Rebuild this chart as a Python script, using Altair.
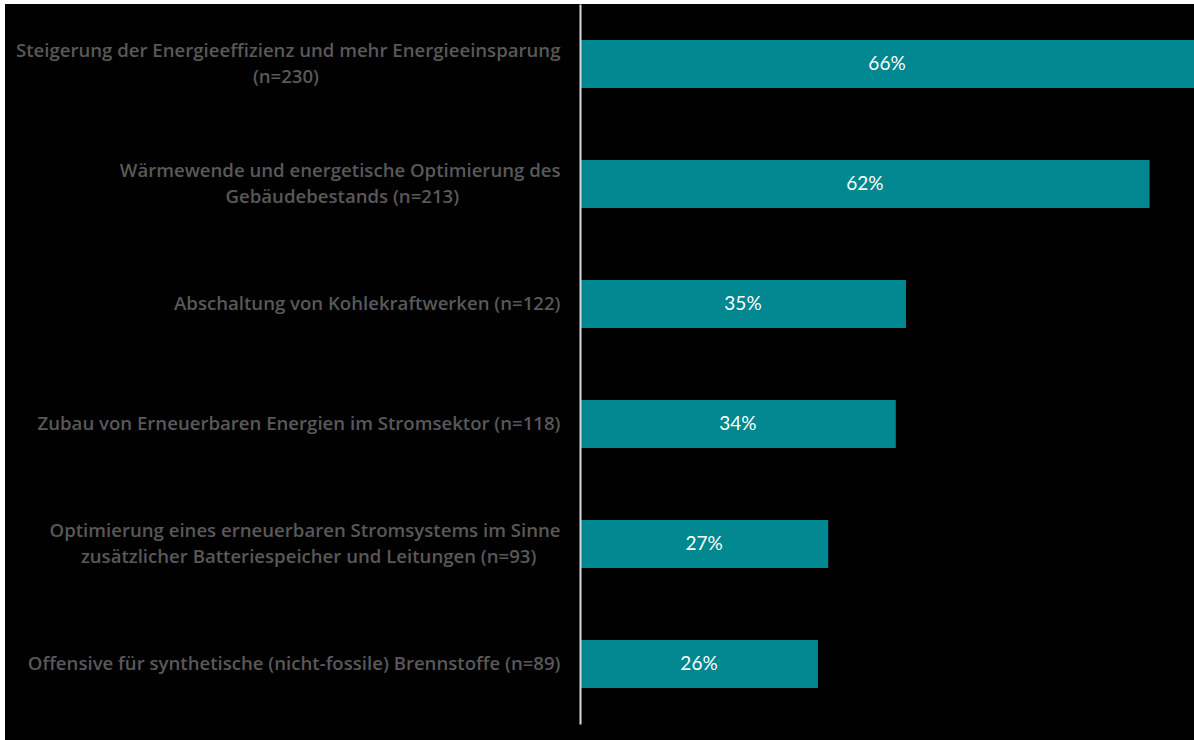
import altair as alt
import pandas as pd

line1 = [
    "Steigerung der Energieeffizienz und mehr Energieeinsparung",
    "Wärmewende und energetische Optimierung des",
    "Abschaltung von Kohlekraftwerken (n=122)",
    "Zubau von Erneuerbaren Energien im Stromsektor (n=118)",
    "Optimierung eines erneuerbaren Stromsystems im Sinne",
    "Offensive für synthetische (nicht-fossile) Brennstoffe (n=89)",
]
line2 = [
    "(n=230)",
    "Gebäudebestands (n=213)",
    "",
    "",
    "zusätzlicher Batteriespeicher und Leitungen (n=93)",
    "",
]
# trailing no-break spaces so the second line sits centred under the first
pad2 = [50, 21, 0, 0, 5, 0]
values = [66.3, 61.5, 35.2, 34.1, 26.8, 25.7]
printed = ["66%", "62%", "35%", "34%", "27%", "26%"]

NB = "\u00a0"
ZW = "\u200b"
labels = []
for a, b, p in zip(line1, line2, pad2):
    labels.append(a + ("|" + b + NB * p + ZW if b else ""))

df = pd.DataFrame({"cat": labels, "value": values, "txt": printed})
order = labels
xscale = alt.Scale(domain=[0, 66.3])

base = alt.Chart(df)

bg = alt.Chart(alt.Data(values=[{}])).mark_rect(color="black").encode(
    x=alt.value(-575), x2=alt.value(614), y=alt.value(0), y2=alt.value(736)
)

yenc = alt.Y(
    "cat:N",
    sort=order,
    title=None,
    scale=alt.Scale(paddingInner=0.6, paddingOuter=0.3),
    axis=alt.Axis(
        labelExpr="split(datum.label, '|')",
        labelFont="Open Sans",
        labelFontWeight=600,
        labelFontSize=18.6,
        labelColor="#595959",
        labelLineHeight=26,
        labelPadding=20,
        labelLimit=0,
        labelOffset={"condition": {"test": "indexof(datum.value, '|') >= 0", "value": -13}, "value": 0},
        ticks=False,
        domainColor="#d9d9d9",
        domainWidth=2,
        grid=False,
        zindex=1,
    ),
)

bars = base.mark_bar(color="#00878F").encode(
    x=alt.X("value:Q", scale=xscale, axis=None),
    y=yenc,
)

text = base.transform_calculate(mid="datum.value / 2").mark_text(
    color="white", font="Lato", fontSize=19, baseline="middle", align="center"
).encode(
    x=alt.X("mid:Q", scale=xscale, axis=None),
    y=alt.Y("cat:N", sort=order),
    text="txt:N",
)

chart = alt.layer(bg, bars, text).properties(
    width=614,
    height=720,
    background="white",
    padding={"left": 580, "top": 4, "right": 0, "bottom": 16},
    autosize=alt.AutoSizeParams(type="none"),
).configure_view(stroke=None)

chart.save("out.html", embed_options={"renderer": "svg", "actions": False})
